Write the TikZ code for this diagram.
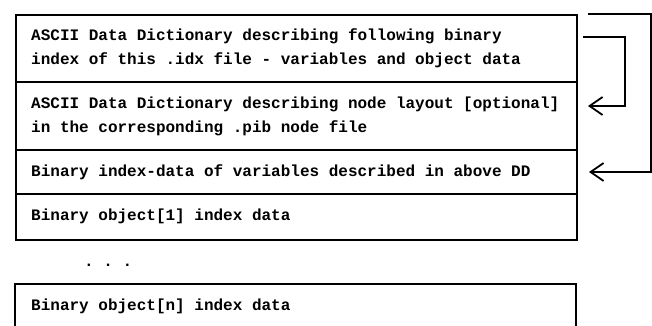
\documentclass[tikz,border=0pt]{standalone}
\usepackage{fontspec}
\setmonofont{Liberation Mono}
\usetikzlibrary{arrows.meta}
\tikzset{
  rowbox/.style={draw, line width=1.7pt, anchor=north west, minimum width=561pt, inner sep=0pt},
  rowtext/.style={anchor=west, inner sep=0pt, align=left,
    font=\ttfamily\bfseries\fontsize{16}{24}\selectfont},
  conn/.style={line width=1.8pt, -{Straight Barb[length=13pt,width=18pt,line width=1.8pt]}},
  plain/.style={line width=1.8pt}
}
\begin{document}
\begin{tikzpicture}[x=1pt,y=-1pt]
\useasboundingbox (0,0) rectangle (652,326);
\node[rowbox, minimum height=67pt] (r1) at (15,14) {};
\node[rowbox, minimum height=68pt] (r2) at (15,81) {};
\node[rowbox, minimum height=44pt] (r3) at (15,149) {};
\node[rowbox, minimum height=46pt] (r4) at (15,193) {};
\node[rowtext] (t1) at ([xshift=16pt]r1.west) {ASCII Data Dictionary describing following binary\\index of this .idx file - variables and object data};
\node[rowtext] (t2) at ([xshift=16pt,yshift=-1pt]r2.west) {ASCII Data Dictionary describing node layout [optional]\\in the corresponding .pib node file};
\node[rowtext] (t3) at ([xshift=16pt]r3.west) {Binary index-data of variables described in above DD};
\node[rowtext] (t4) at ([xshift=16pt]r4.west) {Binary object[1] index data};
\node[rowtext] (dots) at (84,265) {. . .};
\node[rowtext] (rn) at (31,306) {Binary object[n] index data};
\coordinate (nl) at (15,284);
\coordinate (nr) at (576,284);
\draw[plain] (nl |- 0,330) -- (nl) -- (nr) -- (nr |- 0,330);
% connectors
\coordinate (c1a) at (583,37);
\coordinate (c1e) at (588,106);
\draw[conn] (c1a) -- (625,37) |- (c1e);
\coordinate (c2a) at (588,14);
\coordinate (c2e) at (589,172);
\draw[conn] (c2a) -- (651,14) |- (c2e);
\end{tikzpicture}
\end{document}
